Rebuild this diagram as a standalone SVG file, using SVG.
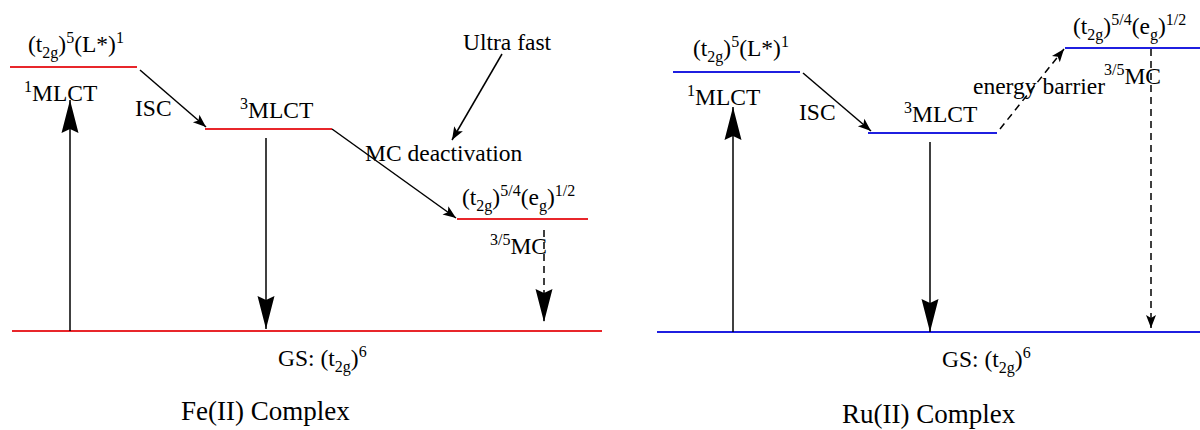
<svg xmlns="http://www.w3.org/2000/svg" width="1200" height="430" viewBox="0 0 1200 430" font-family="'Liberation Serif', 'DejaVu Serif', serif">
<style>
text{font-family:'Liberation Serif','DejaVu Serif',serif;font-size:23.5px;fill:#000}
.s{font-size:16px}
.t{font-size:27px}
.red{stroke:#e8262b;stroke-width:2}
.blue{stroke:#1f1fe0;stroke-width:2}
.a{stroke:#000;stroke-width:1.5;fill:none}
.d{stroke:#000;stroke-width:1.5;fill:none;stroke-dasharray:7,5}
</style>
<defs>
<marker id="big" markerUnits="userSpaceOnUse" viewBox="-34 -10 35 20" refX="0" refY="0" markerWidth="35" markerHeight="20" orient="auto">
<path d="M0,0 L-33,-8.5 L-29,0 L-33,8.5 Z" fill="#000"/>
</marker>
<marker id="sm" markerUnits="userSpaceOnUse" viewBox="-14 -6 15 12" refX="0" refY="0" markerWidth="15" markerHeight="12" orient="auto">
<path d="M0,0 L-13,-5 L-10,0 L-13,5 Z" fill="#000"/>
</marker>
</defs>

<!-- Fe(II) panel -->
<g id="fe-1mlct">
<line class="red" x1="10" y1="67" x2="137" y2="67"/>
<text x="28" y="52">(t<tspan class="s" dy="6">2g</tspan><tspan dy="-6">)</tspan><tspan class="s" dy="-9">5</tspan><tspan dy="9">(L*)</tspan><tspan class="s" dy="-9">1</tspan></text>
<text x="24" y="101"><tspan class="s" dy="-9">1</tspan><tspan dy="9">MLCT</tspan></text>
</g>
<g id="fe-3mlct">
<line class="red" x1="205" y1="129" x2="332" y2="129"/>
<text x="240" y="118"><tspan class="s" dy="-9">3</tspan><tspan dy="9">MLCT</tspan></text>
</g>
<g id="fe-mc">
<line class="red" x1="457" y1="219" x2="588" y2="219"/>
<text x="462" y="205">(t<tspan class="s" dy="6">2g</tspan><tspan dy="-6">)</tspan><tspan class="s" dy="-9">5/4</tspan><tspan dy="9">(e</tspan><tspan class="s" dy="6">g</tspan><tspan dy="-6">)</tspan><tspan class="s" dy="-9">1/2</tspan></text>
<text x="490" y="254"><tspan class="s" dy="-9">3/5</tspan><tspan dy="9">MC</tspan></text>
</g>
<g id="fe-gs">
<line class="red" x1="12" y1="331" x2="602" y2="331"/>
<text x="278" y="366">GS: (t<tspan class="s" dy="6">2g</tspan><tspan dy="-6">)</tspan><tspan class="s" dy="-9">6</tspan></text>
</g>
<g id="fe-labels">
<text x="135" y="116">ISC</text>
<text x="463" y="50">Ultra fast</text>
<text x="365" y="161">MC deactivation</text>
<text class="t" x="181" y="420">Fe(II) Complex</text>
</g>

<!-- Ru(II) panel -->
<g id="ru-1mlct">
<line class="blue" x1="673" y1="72" x2="800" y2="72"/>
<text x="693" y="56">(t<tspan class="s" dy="6">2g</tspan><tspan dy="-6">)</tspan><tspan class="s" dy="-9">5</tspan><tspan dy="9">(L*)</tspan><tspan class="s" dy="-9">1</tspan></text>
<text x="687" y="105"><tspan class="s" dy="-9">1</tspan><tspan dy="9">MLCT</tspan></text>
</g>
<g id="ru-3mlct">
<line class="blue" x1="868" y1="133" x2="997" y2="133"/>
<text x="904" y="122"><tspan class="s" dy="-9">3</tspan><tspan dy="9">MLCT</tspan></text>
</g>
<g id="ru-mc">
<line class="blue" x1="1065" y1="48" x2="1200" y2="48"/>
<text x="1073" y="34">(t<tspan class="s" dy="6">2g</tspan><tspan dy="-6">)</tspan><tspan class="s" dy="-9">5/4</tspan><tspan dy="9">(e</tspan><tspan class="s" dy="6">g</tspan><tspan dy="-6">)</tspan><tspan class="s" dy="-9">1/2</tspan></text>
<text x="1104" y="84"><tspan class="s" dy="-9">3/5</tspan><tspan dy="9">MC</tspan></text>
</g>
<g id="ru-gs">
<line class="blue" x1="657" y1="332" x2="1200" y2="332"/>
<text x="942" y="367">GS: (t<tspan class="s" dy="6">2g</tspan><tspan dy="-6">)</tspan><tspan class="s" dy="-9">6</tspan></text>
</g>
<g id="ru-labels">
<text x="799" y="120">ISC</text>
<text x="973" y="94">energy barrier</text>
<text class="t" x="842" y="423">Ru(II) Complex</text>
</g>

<g id="connectors">
<!-- Fe -->
<line class="a" x1="70" y1="331" x2="70" y2="100" marker-end="url(#big)"/>
<line class="a" x1="140" y1="70" x2="206" y2="127" marker-end="url(#sm)"/>
<line class="a" x1="266" y1="138" x2="266" y2="329" marker-end="url(#big)"/>
<line class="a" x1="332" y1="129" x2="456" y2="218" marker-end="url(#sm)"/>
<line class="a" x1="502" y1="54" x2="452" y2="140" marker-end="url(#sm)"/>
<line class="d" x1="544" y1="230" x2="544" y2="322" marker-end="url(#big)"/>
<!-- Ru -->
<line class="a" x1="733" y1="332" x2="733" y2="107" marker-end="url(#big)"/>
<line class="a" x1="803" y1="73" x2="871" y2="131" marker-end="url(#sm)"/>
<line class="a" x1="930" y1="142" x2="930" y2="332" marker-end="url(#big)"/>
<line class="d" x1="1000" y1="129" x2="1064" y2="49" marker-end="url(#sm)"/>
<line class="d" x1="1151" y1="49" x2="1151" y2="328" marker-end="url(#sm)"/>
</g>
</svg>
